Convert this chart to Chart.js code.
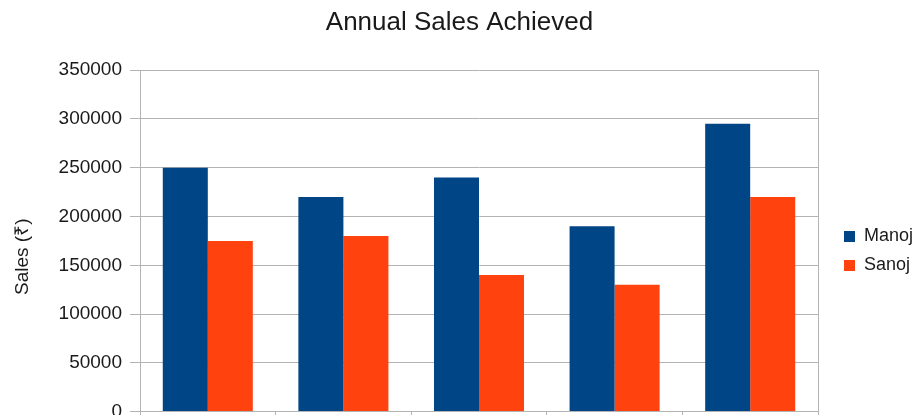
<!DOCTYPE html>
<html>
<head>
<meta charset="utf-8">
<title>Annual Sales Achieved</title>
<script src="https://cdn.jsdelivr.net/npm/chart.js@4/dist/chart.umd.min.js"></script>
<style>
	html, body { margin: 0; padding: 0; background: #fff; overflow: hidden; }
	#wrap { position: relative; width: 919px; height: 431px; }
</style>
</head>
<body>
<div id="wrap"><canvas id="salesChart"></canvas></div>
<script>
// x labels are cut off in the source picture, so these are only placeholders
const categories = ["1", "2", "3", "4", "5"];
const manojSales = [250000, 220000, 240000, 190000, 295000];
const sanojSales = [175000, 180000, 140000, 130000, 220000];
const yTicks = [0, 50000, 100000, 150000, 200000, 250000, 300000, 350000];

const gridGray = "#b3b3b3";
const textColor = "#1a1a1a";
const fontFamily = "'Liberation Sans', Arial, sans-serif";

const salesCtx = document.getElementById("salesChart");
const salesChart = new Chart(salesCtx, {
	type: "bar",
	data: {
		labels: categories,
		datasets: [{
			label: "Manoj",
			data: manojSales,
			backgroundColor: "#004586",
			borderWidth: 0
		}, {
			label: "Sanoj",
			data: sanojSales,
			backgroundColor: "#ff420e",
			borderWidth: 0
		}]
	},
	options: {
		responsive: true,
		maintainAspectRatio: false,
		animation: false,
		layout: { padding: 0 },
		datasets: {
			bar: { categoryPercentage: 0.664, barPercentage: 1 }
		},
		plugins: {
			title: {
				display: true,
				text: "Annual Sales Achieved",
				color: textColor,
				font: { family: fontFamily, size: 26, weight: "normal" },
				padding: { top: 7, bottom: 32 }
			},
			legend: {
				position: "right",
				fullSize: false,
				maxWidth: 86,
				// empty title only pushes the items a bit lower
				title: {
					display: true,
					text: " ",
					font: { size: 10 },
					padding: { top: 4, bottom: 4 }
				},
				labels: {
					boxWidth: 11,
					boxHeight: 11,
					padding: 11,
					color: textColor,
					font: { family: fontFamily, size: 18 }
				}
			},
			tooltip: { enabled: false }
		},
		scales: {
			x: {
				offset: true,
				grid: {
					offset: true,
					drawOnChartArea: false,
					drawTicks: true,
					tickLength: 4,
					tickColor: gridGray,
					color: gridGray
				},
				border: { display: true, color: gridGray },
				ticks: { display: false }
			},
			y: {
				min: 0,
				max: 350000,
				afterBuildTicks: (scale) => {
					scale.ticks = yTicks.map(v => ({ value: v }));
				},
				afterFit: (scale) => {
					scale.width = 140;
				},
				grid: {
					color: gridGray,
					tickColor: gridGray,
					tickLength: 10
				},
				border: { display: true, color: gridGray },
				ticks: {
					padding: 8,
					color: textColor,
					font: { family: fontFamily, size: 19 },
					callback: (value) => String(value)
				},
				title: {
					display: true,
					text: "Sales (₹)      ",
					color: textColor,
					font: { family: fontFamily, size: 19 },
					padding: { top: 11, bottom: 24 }
				}
			},
			yRight: {
				type: "linear",
				position: "right",
				display: true,
				afterFit: (scale) => {
					scale.width = 15;
				},
				grid: { drawOnChartArea: false, drawTicks: false },
				border: { display: true, color: gridGray },
				ticks: { display: false }
			}
		}
	}
});
</script>
</body>
</html>
